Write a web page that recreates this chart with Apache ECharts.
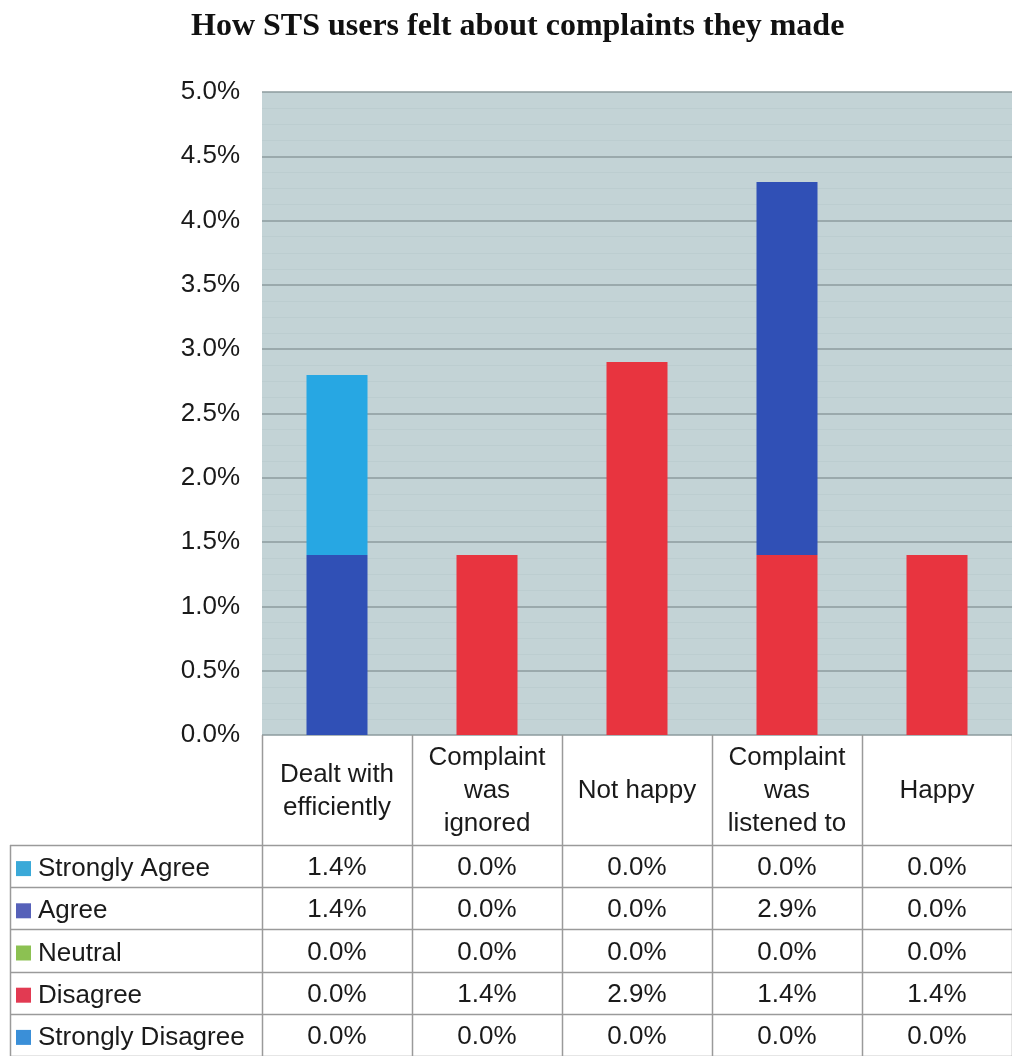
<!DOCTYPE html>
<html>
<head>
<meta charset="utf-8">
<script src="https://cdn.jsdelivr.net/npm/echarts@6/dist/echarts.min.js"></script>
<style>
html,body{margin:0;padding:0;background:#fff;}
#c{width:1012px;height:1056px;}
</style>
</head>
<body>
<div id="c"></div>
<script>
const titleText = 'How STS users felt about complaints they made';
const categories = ['Dealt with efficiently', 'Complaint was ignored', 'Not happy', 'Complaint was listened to', 'Happy'];
const categoryLabels = ['Dealt with\nefficiently', 'Complaint\nwas\nignored', 'Not happy', 'Complaint\nwas\nlistened to', 'Happy'];
const seriesNames = ['Strongly Agree', 'Agree', 'Neutral', 'Disagree', 'Strongly Disagree'];
const stronglyAgree = [1.4, 0.0, 0.0, 0.0, 0.0];
const agree = [1.4, 0.0, 0.0, 2.9, 0.0];
const neutral = [0.0, 0.0, 0.0, 0.0, 0.0];
const disagree = [0.0, 1.4, 2.9, 1.4, 1.4];
const stronglyDisagree = [0.0, 0.0, 0.0, 0.0, 0.0];
const yMin = 0, yMax = 5, yStep = 0.5;

const seriesValues = {
  'Strongly Agree': stronglyAgree,
  'Agree': agree,
  'Neutral': neutral,
  'Disagree': disagree,
  'Strongly Disagree': stronglyDisagree
};
const barColors = {
  'Strongly Agree': '#27a7e3',
  'Agree': '#3050b6',
  'Neutral': '#8cc152',
  'Disagree': '#e8343f',
  'Strongly Disagree': '#3a8fd8'
};
const markerColors = {
  'Strongly Agree': '#3aa9d8',
  'Agree': '#5661b9',
  'Neutral': '#8cc152',
  'Disagree': '#e23a52',
  'Strongly Disagree': '#3a8fd8'
};
// stacking order: bottom first
const stackOrder = ['Strongly Disagree', 'Disagree', 'Neutral', 'Agree', 'Strongly Agree'];

const FONT = '"Liberation Sans", Arial, sans-serif';
const FS = 26;
const TXT = '#1a1a1a';
const W = 1012, H = 1056;
const gridLeft = 262, gridTop = 92, gridBottomY = 735;

const chart = echarts.init(document.getElementById('c'), null, {renderer: 'canvas'});

const option = {
  animation: false,
  backgroundColor: '#ffffff',
  title: {
    text: titleText,
    left: 186,
    top: 6,
    textStyle: {fontFamily: '"Liberation Serif", "Times New Roman", serif', fontWeight: 'bold', fontSize: 32, color: '#111'}
  },
  grid: {
    left: gridLeft, right: 0, top: gridTop, bottom: H - gridBottomY,
    show: true, backgroundColor: '#c3d3d6', borderWidth: 0
  },
  xAxis: {
    type: 'category',
    data: categories,
    axisLine: {show: false},
    axisTick: {show: false},
    axisLabel: {
      interval: 0,
      formatter: (v, i) => categoryLabels[i],
      fontFamily: FONT, fontSize: FS, color: TXT,
      lineHeight: 33, verticalAlign: 'middle', margin: 56, align: 'center'
    }
  },
  yAxis: {
    type: 'value',
    min: yMin, max: yMax, interval: yStep,
    axisLine: {show: false},
    axisTick: {show: false},
    axisLabel: {
      formatter: v => v.toFixed(1) + '%',
      fontFamily: FONT, fontSize: FS, color: TXT, margin: 22
    },
    splitLine: {show: true, lineStyle: {color: '#8d9b9e', width: 1.5}},
    minorTick: {show: false, splitNumber: 4},
    minorSplitLine: {show: true, lineStyle: {color: '#bccdd0', width: 1}}
  },
  series: stackOrder.map(name => ({
    name: name,
    type: 'bar',
    stack: 'total',
    barWidth: 61,
    data: seriesValues[name],
    itemStyle: {color: barColors[name]}
  }))
};
chart.setOption(option);

// Data table below the plot
const lineColor = '#9a9a9a';
const headerBottom = 845;
const rowH = (H - headerBottom) / seriesNames.length;
const colW = (W - gridLeft) / categories.length;
const tableLeft = 10;
const g = [];
for (let r = 0; r <= seriesNames.length; r++) {
  const y = Math.round(headerBottom + r * rowH) + 0.5;
  g.push({type: 'line', shape: {x1: tableLeft, y1: y, x2: W, y2: y}, style: {stroke: lineColor, lineWidth: 1.5}, silent: true});
}
for (let c = 0; c <= categories.length; c++) {
  const x = Math.round(gridLeft + c * colW) + 0.5;
  g.push({type: 'line', shape: {x1: x, y1: gridBottomY, x2: x, y2: H}, style: {stroke: lineColor, lineWidth: 1.5}, silent: true});
}
g.push({type: 'line', shape: {x1: tableLeft + 0.5, y1: headerBottom, x2: tableLeft + 0.5, y2: H}, style: {stroke: lineColor, lineWidth: 1.5}, silent: true});

seriesNames.forEach((name, r) => {
  const yMid = headerBottom + r * rowH + rowH / 2 + 2;
  g.push({type: 'rect', shape: {x: 16, y: yMid - 7, width: 15, height: 15}, style: {fill: markerColors[name]}, silent: true});
  g.push({type: 'text', x: 38, y: yMid + 1, style: {text: name, font: FS + 'px ' + FONT, fill: TXT, textVerticalAlign: 'middle', verticalAlign: 'middle'}, silent: true});
  seriesValues[name].forEach((v, i) => {
    const px = chart.convertToPixel({xAxisIndex: 0}, i);
    g.push({type: 'text', x: px, y: yMid, style: {text: v.toFixed(1) + '%', font: FS + 'px ' + FONT, fill: TXT, align: 'center', verticalAlign: 'middle', textAlign: 'center', textVerticalAlign: 'middle'}, silent: true});
  });
});
chart.setOption({graphic: {elements: g}});
</script>
</body>
</html>
